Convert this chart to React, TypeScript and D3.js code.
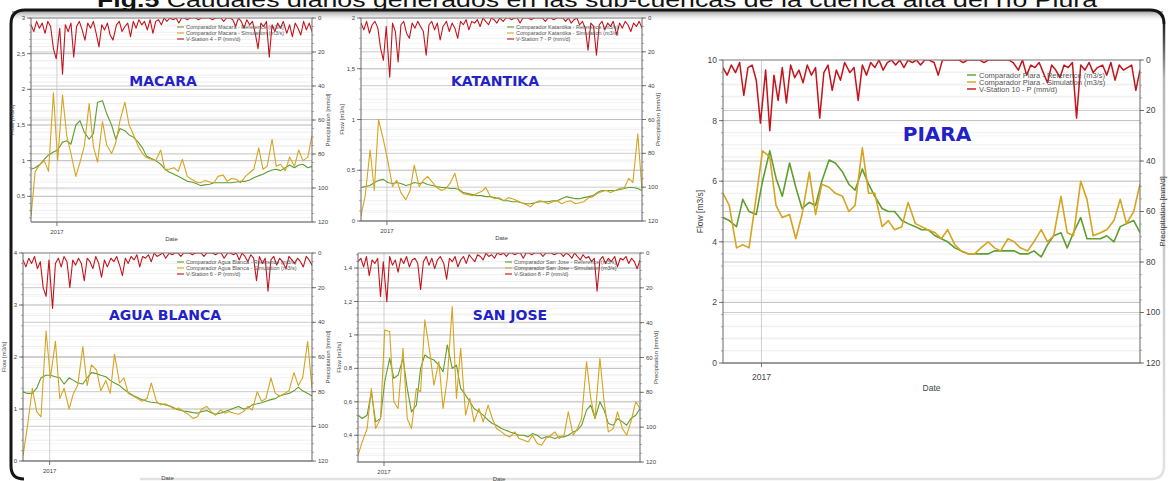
import React from "react";
import * as d3 from "d3";

// time span shared by all panels
const startDate = new Date(2016, 10, 25);
const endDate = new Date(2017, 11, 31);
const yearTick = new Date(2017, 0, 1);

// flows (m3/s), evenly spaced in time
const macaraRef = [0.88, 0.9, 0.95, 1.02, 1.08, 1.12, 1.15, 1.26, 1.28, 1.23, 1.5, 1.56, 1.4, 1.3, 1.38, 1.82, 1.84, 1.66, 1.5, 1.3, 1.45, 1.42, 1.36, 1.33, 1.26, 1.18, 1.06, 1.03, 1.0, 0.95, 0.88, 0.84, 0.81, 0.78, 0.75, 0.71, 0.7, 0.68, 0.65, 0.66, 0.67, 0.69, 0.69, 0.69, 0.69, 0.69, 0.7, 0.71, 0.71, 0.73, 0.76, 0.79, 0.81, 0.84, 0.87, 0.88, 0.86, 0.9, 0.94, 0.9, 0.94, 0.95, 0.9, 0.92];
const macaraSim = [0.22, 0.85, 0.95, 1.0, 0.85, 1.95, 1.0, 1.92, 1.35, 1.1, 0.78, 0.98, 1.2, 1.8, 1.2, 0.98, 1.55, 1.22, 1.1, 1.25, 1.56, 1.82, 1.5, 1.37, 1.2, 1.1, 1.04, 1.02, 1.0, 1.15, 0.88, 0.88, 0.9, 0.85, 1.02, 0.78, 0.74, 0.7, 0.69, 0.72, 0.7, 0.69, 0.78, 0.8, 0.71, 0.75, 0.74, 0.69, 0.78, 0.83, 0.88, 1.18, 0.88, 0.92, 1.3, 0.92, 0.95, 0.86, 1.05, 0.92, 1.15, 1.0, 1.05, 1.35];
const katantikaRef = [0.33, 0.34, 0.35, 0.38, 0.4, 0.41, 0.38, 0.37, 0.38, 0.37, 0.35, 0.36, 0.38, 0.37, 0.38, 0.36, 0.35, 0.34, 0.33, 0.33, 0.32, 0.32, 0.31, 0.28, 0.27, 0.26, 0.25, 0.25, 0.24, 0.24, 0.23, 0.22, 0.2, 0.2, 0.19, 0.19, 0.18, 0.17, 0.17, 0.18, 0.19, 0.19, 0.19, 0.2, 0.2, 0.22, 0.24, 0.23, 0.22, 0.22, 0.23, 0.24, 0.25, 0.28, 0.3, 0.3, 0.3, 0.3, 0.31, 0.32, 0.33, 0.33, 0.32, 0.3];
const katantikaSim = [0.05, 0.25, 0.7, 0.3, 1.0, 0.8, 0.6, 0.34, 0.4, 0.28, 0.21, 0.3, 0.55, 0.34, 0.4, 0.44, 0.38, 0.33, 0.3, 0.32, 0.37, 0.47, 0.3, 0.27, 0.26, 0.25, 0.27, 0.29, 0.33, 0.24, 0.22, 0.23, 0.2, 0.23, 0.22, 0.2, 0.18, 0.16, 0.14, 0.18, 0.2, 0.19, 0.17, 0.19, 0.2, 0.17, 0.19, 0.2, 0.17, 0.18, 0.19, 0.23, 0.24, 0.27, 0.29, 0.3, 0.28, 0.3, 0.32, 0.33, 0.42, 0.38, 0.86, 0.3];
const aguaRef = [1.33, 1.3, 1.3, 1.4, 1.6, 1.65, 1.65, 1.62, 1.6, 1.48, 1.6, 1.55, 1.5, 1.48, 1.6, 1.7, 1.68, 1.65, 1.62, 1.55, 1.5, 1.45, 1.38, 1.32, 1.26, 1.22, 1.18, 1.15, 1.13, 1.12, 1.1, 1.08, 1.06, 1.02, 0.98, 0.96, 0.95, 0.93, 0.92, 0.95, 0.97, 0.93, 0.9, 0.92, 0.95, 0.98, 1.02, 1.05, 1.0, 1.02, 1.08, 1.1, 1.12, 1.15, 1.18, 1.2, 1.25, 1.28, 1.3, 1.35, 1.42, 1.35, 1.3, 1.25];
const aguaSim = [0.1, 0.65, 1.4, 0.95, 0.85, 2.5, 1.6, 2.3, 1.2, 1.4, 1.0, 1.3, 1.46, 2.2, 1.45, 1.85, 1.75, 1.35, 1.55, 1.3, 2.05, 1.5, 1.6, 1.3, 1.25, 1.2, 1.15, 1.2, 1.5, 1.15, 1.08, 1.1, 1.05, 1.0, 1.02, 0.95, 0.9, 0.82, 0.85, 1.0, 1.05, 0.95, 0.88, 0.98, 0.92, 0.95, 0.92, 0.9, 0.95, 1.05, 0.98, 1.33, 1.15, 1.2, 1.6, 1.3, 1.25, 1.3, 1.35, 1.7, 1.45, 1.6, 2.3, 1.4];
const sanJoseRef = [0.52, 0.5, 0.52, 0.66, 0.48, 0.5, 0.72, 0.86, 0.74, 0.76, 0.86, 0.68, 0.54, 0.58, 0.8, 0.88, 0.86, 0.85, 0.82, 0.78, 0.94, 0.8, 0.82, 0.68, 0.64, 0.6, 0.56, 0.54, 0.52, 0.49, 0.47, 0.46, 0.44, 0.43, 0.42, 0.41, 0.4, 0.4, 0.39, 0.41, 0.4, 0.38, 0.39, 0.39, 0.38, 0.39, 0.39, 0.4, 0.42, 0.43, 0.46, 0.55, 0.58, 0.5, 0.6, 0.55, 0.47, 0.46, 0.5, 0.48, 0.46, 0.5, 0.52, 0.56];
const sanJoseSim = [0.28, 0.36, 0.44, 0.68, 0.44, 0.5, 1.03, 1.02, 0.6, 0.56, 0.92, 0.5, 0.44, 0.68, 0.66, 1.09, 0.9, 0.7, 0.84, 0.56, 0.74, 1.17, 0.62, 0.92, 0.52, 0.62, 0.48, 0.56, 0.48, 0.58, 0.5, 0.44, 0.42, 0.4, 0.39, 0.42, 0.38, 0.37, 0.36, 0.4, 0.35, 0.34, 0.38, 0.4, 0.42, 0.38, 0.4, 0.54, 0.4, 0.44, 0.5, 0.84, 0.62, 0.5, 0.86, 0.6, 0.42, 0.44, 0.54, 0.44, 0.4, 0.48, 0.6, 0.56];
const piaraRef = [4.8, 4.7, 4.5, 5.4, 5.0, 4.9, 6.0, 7.0, 6.1, 5.5, 6.6, 5.8, 5.1, 5.3, 5.2, 6.0, 6.7, 6.6, 6.3, 5.9, 5.7, 6.4, 5.9, 5.5, 5.1, 5.0, 5.0, 4.7, 4.6, 4.5, 4.4, 4.4, 4.2, 4.1, 4.0, 3.8, 3.7, 3.6, 3.6, 3.6, 3.6, 3.7, 3.7, 3.7, 3.7, 3.6, 3.6, 3.7, 3.5, 3.9, 4.2, 4.3, 3.8, 4.3, 4.8, 4.1, 4.1, 4.1, 4.2, 4.0, 4.5, 4.6, 4.7, 4.3];
const piaraSim = [5.6, 5.2, 3.8, 3.9, 3.8, 5.5, 7.0, 6.8, 5.2, 4.8, 4.9, 4.1, 4.9, 6.3, 4.9, 5.9, 5.8, 5.6, 5.5, 5.0, 5.2, 7.1, 5.6, 5.6, 4.5, 4.7, 4.4, 4.5, 5.3, 4.6, 4.5, 4.4, 4.3, 4.1, 4.4, 3.9, 3.7, 3.6, 3.6, 3.8, 4.0, 3.8, 3.7, 4.1, 4.0, 3.8, 3.7, 4.0, 4.4, 4.0, 4.2, 5.5, 4.3, 4.2, 6.0, 5.4, 4.2, 4.3, 4.4, 4.7, 5.4, 4.6, 5.0, 5.9];

// precipitation (mm/d), evenly spaced in time
const macaraRain = [4, 8, 2, 6, 3, 9, 2, 5, 18, 24, 6, 33, 4, 8, 3, 23, 5, 2, 7, 13, 3, 6, 2, 9, 17, 4, 7, 3, 10, 13, 4, 2, 8, 5, 3, 11, 2, 6, 1, 4, 2, 7, 1, 9, 2, 1, 4, 0, 2, 0, 1, 0, 3, 0, 0, 1, 0, 0, 0, 1, 0, 0, 0, 0, 1, 0, 0, 0, 2, 0, 0, 1, 5, 0, 2, 6, 1, 4, 2, 9, 18, 3, 5, 2, 23, 4, 8, 3, 6, 2, 9, 4, 11, 3, 6, 10, 2, 7, 3, 8];
const katantikaRain = [3, 7, 2, 9, 4, 2, 6, 18, 25, 5, 35, 3, 8, 26, 4, 2, 9, 12, 3, 6, 2, 5, 8, 22, 4, 2, 7, 3, 13, 5, 2, 8, 3, 6, 12, 2, 4, 1, 7, 2, 3, 1, 5, 0, 2, 4, 0, 1, 3, 0, 2, 0, 0, 1, 0, 0, 3, 0, 0, 0, 1, 0, 0, 0, 0, 2, 0, 0, 1, 0, 0, 0, 2, 0, 3, 1, 0, 4, 2, 6, 19, 3, 5, 22, 4, 2, 7, 3, 5, 2, 10, 3, 6, 2, 4, 8, 3, 5, 2, 6];
const aguaRain = [4, 8, 3, 6, 2, 9, 5, 20, 25, 4, 32, 6, 3, 8, 2, 5, 20, 4, 7, 3, 6, 16, 3, 5, 9, 2, 6, 14, 4, 8, 3, 5, 2, 7, 13, 3, 6, 2, 4, 1, 8, 2, 3, 1, 5, 0, 2, 1, 0, 3, 0, 1, 0, 0, 2, 0, 0, 0, 1, 0, 0, 0, 2, 0, 0, 0, 1, 0, 0, 3, 0, 0, 1, 0, 4, 0, 2, 5, 1, 3, 16, 2, 6, 3, 22, 4, 2, 7, 3, 5, 9, 2, 4, 6, 3, 5, 8, 2, 4, 7];
const sanJoseRain = [5, 3, 8, 2, 13, 4, 6, 3, 25, 5, 28, 2, 7, 4, 11, 3, 6, 2, 8, 4, 3, 6, 21, 5, 2, 7, 3, 9, 4, 2, 6, 15, 3, 5, 2, 8, 4, 2, 6, 1, 3, 5, 1, 2, 4, 0, 2, 1, 3, 0, 1, 0, 2, 0, 0, 1, 0, 0, 3, 0, 0, 1, 0, 0, 0, 2, 0, 0, 0, 1, 0, 0, 2, 0, 1, 3, 0, 2, 4, 1, 3, 2, 5, 3, 22, 4, 2, 6, 3, 5, 2, 8, 3, 4, 2, 6, 3, 5, 9, 4];
const piaraRain = [3, 6, 2, 5, 1, 14, 3, 2, 8, 25, 4, 28, 6, 16, 3, 17, 2, 7, 4, 9, 2, 6, 3, 23, 5, 2, 12, 4, 8, 1, 5, 3, 16, 2, 6, 1, 3, 0, 4, 1, 0, 2, 0, 3, 0, 1, 0, 2, 0, 0, 1, 6, 0, 0, 0, 0, 0, 1, 0, 0, 0, 0, 1, 0, 0, 0, 0, 0, 0, 1, 4, 0, 6, 2, 3, 1, 5, 9, 2, 4, 7, 2, 3, 1, 23, 2, 4, 1, 5, 3, 2, 6, 1, 8, 2, 4, 3, 2, 12, 4];

const rainTicks = [0, 20, 40, 60, 80, 100, 120];

const caption = "Caudales diarios generados en las sub-cuencas de la cuenca alta del río Piura";

const GREEN = "#5f9e2f";
const YELLOW = "#d6a420";
const RED = "#c3141c";
const BLUE = "#2222c6";

const panels = [
  { id: "macara", title: "MACARA", label: "Macara", station: 4, ref: macaraRef, sim: macaraSim, rain: macaraRain,
    box: [31, 18, 312, 222], domain: [0.14, 3], ticks: [0.5, 1, 1.5, 2, 2.5, 3], minor: 0.1, titlePos: [163, 86], big: false },
  { id: "katantika", title: "KATANTIKA", label: "Katantika", station: 7, ref: katantikaRef, sim: katantikaSim, rain: katantikaRain,
    box: [361, 18, 642, 221], domain: [0, 2], ticks: [0, 0.5, 1, 1.5, 2], minor: 0.1, titlePos: [495, 86], big: false },
  { id: "agua", title: "AGUA BLANCA", label: "Agua Blanca", station: 6, ref: aguaRef, sim: aguaSim, rain: aguaRain,
    box: [23, 253, 312, 461], domain: [0, 4], ticks: [0, 1, 2, 3, 4], minor: 0.2, titlePos: [165, 320], big: false },
  { id: "sanjose", title: "SAN JOSE", label: "San Jose", station: 8, ref: sanJoseRef, sim: sanJoseSim, rain: sanJoseRain,
    box: [358, 253, 640, 462], domain: [0.24, 1.49], ticks: [0.4, 0.6, 0.8, 1, 1.2, 1.4], minor: 0.04, titlePos: [510, 320], big: false },
  { id: "piara", title: "PIARA", label: "Piara", station: 10, ref: piaraRef, sim: piaraSim, rain: piaraRain,
    box: [723, 60, 1140, 363], domain: [0, 10], ticks: [0, 2, 4, 6, 8, 10], minor: 0.4, titlePos: [937, 141], big: true },
];

const fmt = (v: number) => String(+v.toFixed(2)).replace(".", ",");

const Panel = ({ p }: any) => {
  const [x0, y0, x1, y1] = p.box;
  const big = p.big;
  const fs = big ? 8.5 : 6;
  const legendFs = big ? 7.5 : 5.5;
  const span = d3.timeDay.count(startDate, endDate);

  const x = d3.scaleTime().domain([startDate, endDate]).range([x0, x1]);
  const y = d3.scaleLinear().domain(p.domain).range([y1, y0]);
  const yr = d3.scaleLinear().domain([0, 120]).range([y0, y1]);

  const dateAt = (i: number, n: number) => d3.timeDay.offset(startDate, Math.round((i * span) / (n - 1)));
  const flowLine = d3.line<number>().x((d, i, arr) => x(dateAt(i, arr.length))).y((d) => y(d));
  const rainLine = d3.line<number>().x((d, i, arr) => x(dateAt(i, arr.length))).y((d) => yr(d));

  const [lo, hi] = p.domain;
  const minorVals = d3.range(Math.ceil(lo / p.minor - 1e-6) * p.minor, hi + 1e-6, p.minor);
  const rainMinor = d3.range(0, 121, 5);
  const xt = x(yearTick);

  const legend = [
    { c: GREEN, t: `Comparador ${p.label} - Reference (m3/s)` },
    { c: YELLOW, t: `Comparador ${p.label} - Simulation (m3/s)` },
    { c: RED, t: `V-Station ${p.station} - P (mm/d)` },
  ];
  const lgX = big ? x1 - 173 : x1 - 135;
  const lgY = big ? y0 + 15 : y0 + 9;
  const lgStep = big ? 7 : 6;

  return (
    <g fontFamily="'Liberation Sans', Arial, sans-serif">
      <defs>
        <clipPath id={`clip-${p.id}`}>
          <rect x={x0} y={y0} width={x1 - x0} height={y1 - y0} />
        </clipPath>
      </defs>
      <rect x={x0} y={y0} width={x1 - x0} height={y1 - y0} fill="#fff" />
      {minorVals.map((v: number, i: number) => (
        <line key={`mn${i}`} x1={x0} x2={x1} y1={y(v)} y2={y(v)} stroke="#e3e3e3" strokeWidth={0.6} />
      ))}
      {rainMinor.map((v) => (
        <line key={`rm${v}`} x1={x0} x2={x1} y1={yr(v)} y2={yr(v)} stroke="#ececec" strokeWidth={0.5} />
      ))}
      {p.ticks.map((v: number) => (
        <line key={`mj${v}`} x1={x0} x2={x1} y1={y(v)} y2={y(v)} stroke="#b2b2b2" strokeWidth={0.8} />
      ))}
      {rainTicks.map((v) => (
        <line key={`rj${v}`} x1={x0} x2={x1} y1={yr(v)} y2={yr(v)} stroke="#bcbcbc" strokeWidth={0.7} />
      ))}
      <line x1={xt} x2={xt} y1={y0} y2={y1} stroke="#c4c4c4" strokeWidth={0.8} />

      <g clipPath={`url(#clip-${p.id})`} fill="none" strokeLinejoin="round">
        <path d={rainLine(p.rain) || ""} stroke={RED} strokeWidth={big ? 1.5 : 1.1} />
        <path d={flowLine(p.ref) || ""} stroke={GREEN} strokeWidth={big ? 1.6 : 1.1} />
        <path d={flowLine(p.sim) || ""} stroke={YELLOW} strokeWidth={big ? 1.6 : 1.1} />
      </g>

      {/* frame and axes */}
      <line x1={x0} x2={x1} y1={y0} y2={y0} stroke="#9a9a9a" strokeWidth={0.8} />
      <line x1={x0} x2={x1} y1={y1} y2={y1} stroke="#666" strokeWidth={1} />
      <line x1={x0} x2={x0} y1={y0} y2={y1} stroke="#666" strokeWidth={1} />
      <line x1={x1} x2={x1} y1={y0} y2={y1} stroke="#666" strokeWidth={1} />

      {minorVals.map((v: number, i: number) => (
        <line key={`lmt${i}`} x1={x0 - 2} x2={x0} y1={y(v)} y2={y(v)} stroke="#777" strokeWidth={0.6} />
      ))}
      {rainMinor.map((v) => (
        <line key={`rmt${v}`} x1={x1} x2={x1 + 2} y1={yr(v)} y2={yr(v)} stroke="#777" strokeWidth={0.6} />
      ))}
      {p.ticks.map((v: number) => (
        <g key={`lt${v}`}>
          <line x1={x0 - 4} x2={x0} y1={y(v)} y2={y(v)} stroke="#555" strokeWidth={0.8} />
          <text x={x0 - 6} y={y(v)} dy="0.35em" textAnchor="end" fontSize={fs} fill="#444">{fmt(v)}</text>
        </g>
      ))}
      {rainTicks.map((v) => (
        <g key={`rt${v}`}>
          <line x1={x1} x2={x1 + 4} y1={yr(v)} y2={yr(v)} stroke="#555" strokeWidth={0.8} />
          <text x={x1 + 6} y={yr(v)} dy="0.35em" fontSize={fs} fill="#444">{v}</text>
        </g>
      ))}
      <line x1={xt} x2={xt} y1={y1} y2={y1 + 4} stroke="#555" strokeWidth={0.8} />
      <text x={xt} y={y1 + (big ? 17 : 12)} textAnchor="middle" fontSize={fs} fill="#444">2017</text>
      <text x={(x0 + x1) / 2} y={y1 + (big ? 28 : 19)} textAnchor="middle" fontSize={fs} fill="#444">Date</text>
      <text transform={`translate(${x0 - (big ? 20 : 17)},${(y0 + y1) / 2}) rotate(-90)`} textAnchor="middle" fontSize={fs} fill="#444">Flow [m3/s]</text>
      <text transform={`translate(${x1 + (big ? 25 : 18)},${(y0 + y1) / 2}) rotate(-90)`} textAnchor="middle" fontSize={big ? 8 : fs} fill="#444">Precipitation [mm/d]</text>

      {legend.map((l, i) => (
        <g key={l.t}>
          <line x1={lgX} x2={lgX + (big ? 9 : 7)} y1={lgY + i * lgStep} y2={lgY + i * lgStep} stroke={l.c} strokeWidth={big ? 1.4 : 1.1} />
          <text x={lgX + (big ? 12 : 9)} y={lgY + i * lgStep} dy="0.35em" fontSize={legendFs} fill="#555">{l.t}</text>
        </g>
      ))}

      <text x={p.titlePos[0]} y={p.titlePos[1]} textAnchor="middle" fontSize={big ? 20 : 14} fontWeight="bold"
        fontFamily="'DejaVu Sans', sans-serif" fill={BLUE}>{p.title}</text>
    </g>
  );
};

const App = () => {
  return (
    <svg width={1169} height={481} viewBox="0 0 1169 481" style={{ position: "absolute", left: 0, top: 0, background: "#fff" }}>
      <defs>
        <linearGradient id="topShade" x1="0" y1="0" x2="0" y2="1">
          <stop offset="0" stopColor="#7a7a7a" stopOpacity={0.75} />
          <stop offset="1" stopColor="#ffffff" stopOpacity={0} />
        </linearGradient>
        <linearGradient id="rightEdge" x1="0" y1="0" x2="0" y2="1">
          <stop offset="0" stopColor="#222" />
          <stop offset="0.12" stopColor="#b8b8b8" />
          <stop offset="1" stopColor="#e2e2e2" />
        </linearGradient>
        <linearGradient id="bottomEdge" x1="0" y1="0" x2="1" y2="0">
          <stop offset="0" stopColor="#151515" />
          <stop offset="1" stopColor="#e2e2e2" />
        </linearGradient>
      </defs>
      <rect x={0} y={0} width={1169} height={481} fill="#fff" />

      <text x={97} y={7} fontSize={21} fontFamily="'Liberation Sans', Arial, sans-serif" fill="#111"
        textLength={1000} lengthAdjust="spacingAndGlyphs">
        <tspan fontWeight="bold">Fig.5</tspan> {caption}
      </text>

      <rect x={12} y={11} width={1151} height={11} fill="url(#topShade)" />
      <path d="M 1164 24 L 1164 466 Q 1164 479 1151 479 L 140 479" fill="none" stroke="url(#rightEdge)" strokeWidth={2.5} />
      <path d="M 24 479 L 140 479" fill="none" stroke="url(#bottomEdge)" strokeWidth={2.5} />
      <path d="M 24 479 Q 11 479 11 466 L 11 24 Q 11 10 25 10 L 1150 10 Q 1164 10 1164 24"
        fill="none" stroke="#151515" strokeWidth={3} />

      {panels.map((p) => (
        <Panel key={p.id} p={p} />
      ))}
    </svg>
  );
};

export default App;
